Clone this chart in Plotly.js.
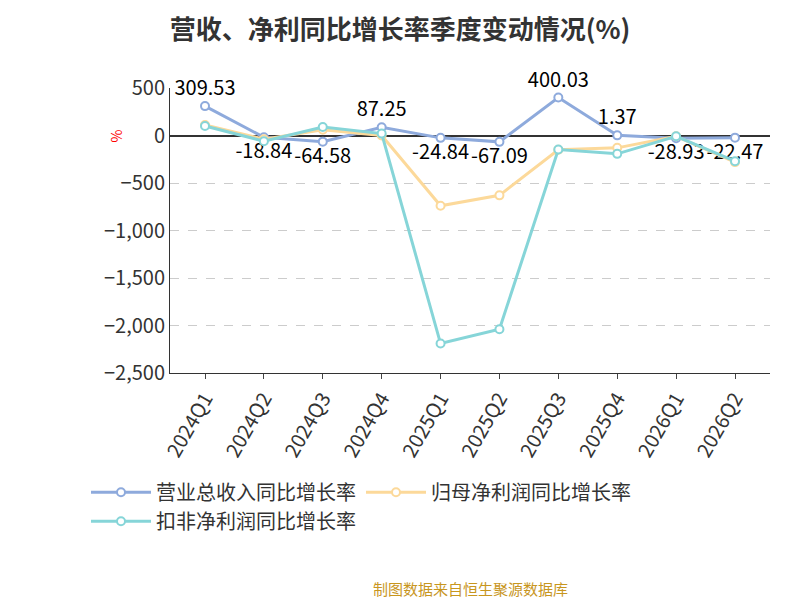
<!DOCTYPE html><html><head><meta charset="utf-8"><script src="https://cdn.plot.ly/plotly-3.0.1.min.js"></script></head><body style="margin:0"><div id="c" style="width:800px;height:600px"></div><script>
const categories=['2024Q1','2024Q2','2024Q3','2024Q4','2025Q1','2025Q2','2025Q3','2025Q4','2026Q1','2026Q2'];
const revenue=[309.53,-18.84,-64.58,87.25,-24.84,-67.09,400.03,1.37,-28.93,-22.47];
const netProfit=[110,-40,60,0,-740,-630,-150,-130,-8,-280];
const deductedProfit=[100,-60,90,20,-2190,-2040,-147,-193,-8,-270];
const names=['营业总收入同比增长率','归母净利润同比增长率','扣非净利润同比增长率'];
const colors=['#8eaadc','#fcd99a','#86d5d8'];
const mk=(y,i,txt)=>({x:categories,y:y,name:names[i],type:'scatter',mode:txt?'lines+markers+text':'lines+markers',
 text:txt?y.map(v=>v.toFixed(2)):undefined,textposition:txt?y.map(v=>v<0?'bottom center':'top center'):undefined,textfont:{size:20,color:'#000'},cliponaxis:false,
 line:{color:colors[i],width:3},marker:{size:8,color:'#fff',line:{color:colors[i],width:2}}});
Plotly.newPlot('c',[mk(revenue,0,true),mk(netProfit,1),mk(deductedProfit,2)],{
 width:800,height:600,paper_bgcolor:'#fff',plot_bgcolor:'#fff',
 title:{text:'<b>营收、净利同比增长率季度变动情况(%)</b>',x:0.5,y:0.965,font:{size:26,color:'#333'}},
 font:{family:'Noto Sans CJK SC, sans-serif',color:'#333'},
 margin:{l:170,r:30,t:88,b:227},
 xaxis:{type:'category',tickangle:-60,tickfont:{size:20},showline:true,linecolor:'#333',ticks:'outside',showgrid:false,zeroline:false},
 yaxis:{range:[-2500,500],dtick:500,tickformat:',',tickfont:{size:20},gridcolor:'#ccc',griddash:'dash',showline:true,linecolor:'#333',
  zeroline:true,zerolinecolor:'#333',zerolinewidth:1.5},
 legend:{orientation:'h',x:-0.14,xanchor:'left',y:-0.35,yanchor:'top',font:{size:20},itemwidth:60,traceorder:'normal'},
 annotations:[
  {text:'制图数据来自恒生聚源数据库',x:0.5,y:-0.755,xref:'paper',yref:'paper',yanchor:'middle',showarrow:false,font:{size:15,color:'#c8961e'}},
  {text:'%',x:-0.11,y:0.86,xref:'paper',yref:'paper',textangle:-90,showarrow:false,font:{size:14,color:'red'}}]
},{displayModeBar:false});
</script></body></html>
